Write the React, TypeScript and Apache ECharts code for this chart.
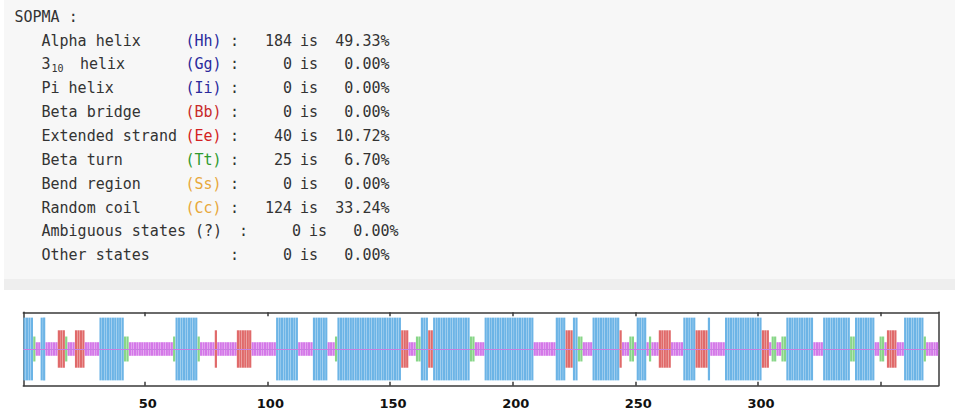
import React, { useEffect, useRef } from 'react';
import * as echarts from 'echarts';

// Secondary-structure segments (state, length) read along the sequence, residues 1..373
const SEG_STATES = ['H','T','C','H','C','E','T','C','E','C','H','T','C','T','H','T','C','E','C','E','C','H','C','H','C','T','H','E','C','T','H','E','H','T','C','H','C','H','E','H','T','C','H','E','C','T','C','H','C','T','C','E','C','H','E','H','C','H','E','C','T','C','T','H','C','H','T','H','C','T','C','E','C','H','T','C'];
const SEG_LENGTHS = [4,1,2,2,5,3,1,3,4,6,10,2,18,1,9,1,6,1,8,6,10,9,6,6,3,1,26,3,3,2,3,2,15,2,4,20,9,4,3,2,2,4,11,1,3,2,1,4,1,1,3,5,5,5,5,1,6,15,3,1,2,2,2,11,4,11,2,8,2,2,1,4,3,8,1,5];

const TICK_MARKS = [50, 100, 150, 200, 250, 300, 350];
const TICK_LABELS = [50, 100, 150, 200, 250, 300];

// SOPMA summary table
const ROW_LABELS = ['Alpha helix', '3', 'Pi helix', 'Beta bridge', 'Extended strand', 'Beta turn', 'Bend region', 'Random coil', 'Ambiguous states (?)', 'Other states'];
const ROW_CODES = ['(Hh)', '(Gg)', '(Ii)', '(Bb)', '(Ee)', '(Tt)', '(Ss)', '(Cc)', '', ''];
const ROW_COUNTS = ['184', '0', '0', '0', '40', '25', '0', '124', '0', '0'];
const ROW_PERCENTS = ['49.33%', '0.00%', '0.00%', '0.00%', '10.72%', '6.70%', '0.00%', '33.24%', '0.00%', '0.00%'];

const STATE_HEIGHT: Record<string, number> = { H: 0.855, E: 0.51, T: 0.34, C: 0.185 };
const STATE_COLOR: Record<string, string> = { H: '#6cb4e6', E: '#e06a6a', T: '#88d688', C: '#d478e8' };
const CODE_COLOR = ['#2a2a9c', '#2a2a9c', '#2a2a9c', '#c82a2a', '#d42222', '#2e9a2e', '#e8a83a', '#e8a83a', '', ''];

export default function App() {
  const ref = useRef<HTMLDivElement>(null);

  useEffect(() => {
    if (!ref.current) return;
    const chart = echarts.init(ref.current, undefined, { renderer: 'svg' });

    const residues: string[] = [];
    const states: string[] = [];
    SEG_STATES.forEach((s, i) => {
      for (let k = 0; k < SEG_LENGTHS[i]; k++) {
        states.push(s);
        residues.push(String(residues.length + 1));
      }
    });
    const up = states.map((s) => ({ value: STATE_HEIGHT[s], itemStyle: { color: STATE_COLOR[s] } }));
    const down = states.map((s) => ({ value: -STATE_HEIGHT[s], itemStyle: { color: STATE_COLOR[s] } }));

    const mono = '15px "DejaVu Sans Mono", monospace';
    const txt = '#333333';
    const t = (text: string, x: number, y: number, align: string, fill = txt, font = mono) => ({
      type: 'text', x, y, silent: true,
      style: { text, font, fill, align, verticalAlign: 'middle', textAlign: align, textVerticalAlign: 'middle' },
    });
    const graphics: any[] = [
      { type: 'rect', shape: { x: 4, y: 0, width: 955, height: 279 }, style: { fill: '#f7f7f7' }, silent: true, z: -10 },
      { type: 'rect', shape: { x: 4, y: 279, width: 955, height: 11 }, style: { fill: '#eeeeee' }, silent: true, z: -10 },
      t('SOPMA :', 14.5, 16.5, 'left'),
    ];
    ROW_LABELS.forEach((lab, i) => {
      const y = 40.6 + 23.85 * i;
      const shift = i === 8 ? 9 : 0;
      graphics.push(t(lab, 41.5, y, 'left'));
      if (i === 1) {
        graphics.push(t('10', 51.5, y + 4, 'left', txt, '10px "DejaVu Sans Mono", monospace'));
        graphics.push(t('helix', 80, y, 'left'));
      }
      if (ROW_CODES[i]) graphics.push(t(ROW_CODES[i], 185.5, y, 'left', CODE_COLOR[i]));
      graphics.push(t(':', 230 + shift, y, 'left'));
      graphics.push(t(ROW_COUNTS[i], 292 + shift, y, 'right'));
      graphics.push(t('is', 300 + shift, y, 'left'));
      graphics.push(t(ROW_PERCENTS[i], 389.5 + shift, y, 'right'));
    });

    const tickInterval = (_i: number, v: string) => TICK_MARKS.includes(Number(v));
    const labelInterval = (_i: number, v: string) => TICK_LABELS.includes(Number(v));
    const axisLineStyle = { color: '#3a3a3a', width: 1.5 };

    chart.setOption({
      animation: false,
      graphic: graphics,
      grid: { left: 23.3, right: 16.7, top: 312.3, bottom: 33.3, containLabel: false },
      xAxis: [
        {
          type: 'category', data: residues, position: 'bottom', boundaryGap: true,
          axisLine: { show: true, onZero: false, lineStyle: axisLineStyle },
          axisTick: { show: true, inside: true, length: 4, alignWithLabel: true, interval: tickInterval, lineStyle: axisLineStyle },
          axisLabel: { show: true, interval: labelInterval, color: '#111', fontWeight: 'bold', fontSize: 13, fontFamily: '"DejaVu Sans", sans-serif', margin: 11, padding: [0, 0, 0, 6] },
          splitLine: { show: false },
        },
        {
          type: 'category', data: residues, position: 'top', boundaryGap: true,
          axisLine: { show: true, onZero: false, lineStyle: axisLineStyle },
          axisTick: { show: true, inside: true, length: 4, alignWithLabel: true, interval: tickInterval, lineStyle: axisLineStyle },
          axisLabel: { show: false },
          splitLine: { show: false },
        },
      ],
      yAxis: [
        { type: 'value', min: -1, max: 1, position: 'left', axisLine: { show: true, onZero: false, lineStyle: axisLineStyle }, axisTick: { show: false }, axisLabel: { show: false }, splitLine: { show: false } },
        { type: 'value', min: -1, max: 1, position: 'right', axisLine: { show: true, onZero: false, lineStyle: axisLineStyle }, axisTick: { show: false }, axisLabel: { show: false }, splitLine: { show: false } },
      ],
      series: [
        {
          type: 'bar', stack: 'ss', data: up, xAxisIndex: 0, yAxisIndex: 0, barCategoryGap: '10%', silent: true,
          markLine: { symbol: 'none', silent: true, label: { show: false }, lineStyle: { color: '#c77fe0', width: 1, type: 'solid' }, data: [{ yAxis: 0 }] },
        },
        { type: 'bar', stack: 'ss', data: down, xAxisIndex: 0, yAxisIndex: 0, barCategoryGap: '10%', silent: true },
      ],
    });
    return () => chart.dispose();
  }, []);

  return <div ref={ref} style={{ position: 'absolute', left: 0, top: 0, width: 955, height: 419 }} />;
}
